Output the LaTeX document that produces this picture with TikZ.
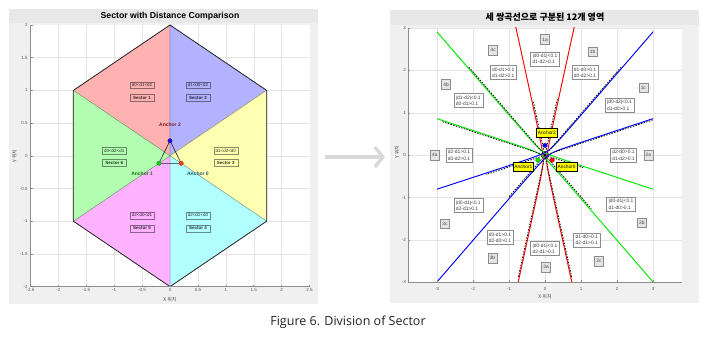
\documentclass[tikz,border=0pt]{standalone}
\usepackage{fontspec}
\setmainfont{Liberation Sans}
\newfontfamily\krfont{Noto Sans CJK KR}
\newfontfamily\capfont{Open Sans}
\usetikzlibrary{arrows.meta}

\definecolor{figbg}{HTML}{F0F0F0}
\definecolor{titlebg}{HTML}{E8E8E8}
\definecolor{gridc}{HTML}{E4E4E4}
\definecolor{axisc}{HTML}{8C8C8C}
\definecolor{secred}{RGB}{255,178,178}
\definecolor{secblue}{RGB}{178,178,255}
\definecolor{secyellow}{RGB}{255,255,178}
\definecolor{seccyan}{RGB}{178,255,255}
\definecolor{secmagenta}{RGB}{255,178,255}
\definecolor{secgreen}{RGB}{178,255,178}
\definecolor{hypred}{RGB}{255,0,0}
\definecolor{hypgreen}{RGB}{0,230,0}
\definecolor{hypblue}{RGB}{0,0,255}
\definecolor{dotred}{RGB}{232,64,28}
\definecolor{dotgreen}{RGB}{30,200,30}
\definecolor{dotblue}{RGB}{20,20,220}
\definecolor{lblA}{RGB}{30,92,110}
\definecolor{lblB}{RGB}{30,110,30}
\definecolor{lblC}{RGB}{122,26,40}
\definecolor{tagyellow}{RGB}{255,255,0}
\definecolor{arrowgray}{HTML}{D9D9D9}
\definecolor{capc}{HTML}{222222}

\tikzset{
  ticklbl/.style={font=\fontsize{4.5}{5}\selectfont, text=black!65, inner sep=0pt},
  axlbl/.style={font=\krfont\fontsize{5}{6}\selectfont, text=black!70, inner sep=0pt},
  paneltitle/.style={font=\bfseries\fontsize{8.7}{10}\selectfont, inner sep=0pt},
  gridline/.style={draw=gridc, line width=0.4pt},
  axisline/.style={draw=axisc, line width=0.5pt},
  secfill/.style={fill=#1, draw=#1!55!black, line width=0.3pt},
  secbox/.style={draw=#1!55!black, text=#1!20!black, line width=0.4pt,
     font=\fontsize{4.5}{5}\selectfont, inner sep=1.2pt, minimum width=24pt, minimum height=6.8pt},
  secname/.style={secbox=#1, font=\bfseries\fontsize{4.5}{5}\selectfont},
  anchorlbl/.style={font=\bfseries\fontsize{5}{6}\selectfont, text=#1, inner sep=0pt},
  anchordot/.style={circle, fill=#1, draw=#1!70!black, line width=0.3pt, minimum size=4.4pt, inner sep=0pt},
  hyper/.style={draw=#1, line width=0.95pt},
  asym/.style={draw=black, line width=0.75pt, dash pattern=on 1.5pt off 1.3pt},
  regbox/.style={draw=black!45, fill=black!10, font=\fontsize{4.8}{5}\selectfont, text=black!75,
     minimum width=9pt, minimum height=9.5pt, inner sep=0.5pt},
  condbox/.style={draw=black!45, fill=white, font=\fontsize{4.9}{6.4}\selectfont, text=black!75,
     align=left, inner sep=2pt},
  anchortag/.style={draw=black, fill=tagyellow, line width=0.4pt, font=\fontsize{4.8}{5}\selectfont,
     inner sep=1.3pt, minimum height=8.5pt},
}

\begin{document}
\begin{tikzpicture}[x=1pt, y=-1pt]
\useasboundingbox (0,0) rectangle (706,339);
\fill[white] (0,0) rectangle (706,339);

% ================= left panel: hexagon sectors =================
\fill[figbg] (9,9) rectangle (318,304);
\fill[titlebg] (9,9) rectangle (318,23);
\node[paneltitle] (ltitle) at (170,16) {Sector with Distance Comparison};
\fill[white] (30,25) rectangle (309.5,286.8);

\begin{scope}[shift={(170pt,-155.8pt)}, x={(55.8pt,0pt)}, y={(0pt,65.4pt)}]
  \foreach \g in {-2,-1.5,...,2} \draw[gridline] (\g,-2) -- (\g,2);
  \foreach \g in {-1.5,-1,...,1.5} \draw[gridline] (-2.5,\g) -- (2.5,\g);

  \coordinate (c) at (0,0);
  \coordinate (h0) at (0,2);
  \coordinate (h1) at (1.7321,1);
  \coordinate (h2) at (1.7321,-1);
  \coordinate (h3) at (0,-2);
  \coordinate (h4) at (-1.7321,-1);
  \coordinate (h5) at (-1.7321,1);
  \path[secfill=secred] (c) -- (h5) -- (h0) -- cycle;
  \path[secfill=secblue] (c) -- (h0) -- (h1) -- cycle;
  \path[secfill=secyellow] (c) -- (h1) -- (h2) -- cycle;
  \path[secfill=seccyan] (c) -- (h2) -- (h3) -- cycle;
  \path[secfill=secmagenta] (c) -- (h3) -- (h4) -- cycle;
  \path[secfill=secgreen] (c) -- (h4) -- (h5) -- cycle;
  \draw[black!85, line width=0.75pt, line join=round]
    (h0) -- (h1) -- (h2) -- (h3) -- (h4) -- (h5) -- cycle;

  % sector labels
  \node[secbox=secred] (s1c) at (-0.5,1.08) {d0<d1<d2};
  \node[secname=secred] (s1n) at (-0.5,0.89) {Sector 1};
  \node[secbox=secblue] (s2c) at (0.5,1.08) {d1<d0<d2};
  \node[secname=secblue] (s2n) at (0.5,0.89) {Sector 2};
  \node[secbox=secyellow] (s3c) at (1.0,0.08) {d1<d2<d0};
  \node[secname=secyellow] (s3n) at (1.0,-0.11) {Sector 3};
  \node[secbox=seccyan] (s4c) at (0.5,-0.91) {d2<d1<d0};
  \node[secname=seccyan] (s4n) at (0.5,-1.11) {Sector 4};
  \node[secbox=secmagenta] (s5c) at (-0.5,-0.91) {d2<d0<d1};
  \node[secname=secmagenta] (s5n) at (-0.5,-1.11) {Sector 5};
  \node[secbox=secgreen] (s6c) at (-1.0,0.08) {d0<d2<d1};
  \node[secname=secgreen] (s6n) at (-1.0,-0.11) {Sector 6};

  % anchors
  \coordinate (a2) at (0,0.23);
  \coordinate (a1) at (-0.2,-0.115);
  \coordinate (a0) at (0.2,-0.115);
  \draw[black!85, line width=0.6pt, line join=round] (a2) -- (a1) -- (a0) -- cycle;
  \node[anchordot=dotblue] (a2dot) at (a2) {};
  \node[anchordot=dotgreen] (a1dot) at (a1) {};
  \node[anchordot=dotred] (a0dot) at (a0) {};
  \node[anchorlbl=lblC] (a2lbl) at (0,0.47) {Anchor 2};
  \node[anchorlbl=lblB] (a1lbl) at (-0.5,-0.28) {Anchor 1};
  \node[anchorlbl=lblA] (a0lbl) at (0.5,-0.28) {Anchor 0};

  % axes
  \draw[axisline] (-2.5,2) -- (-2.5,-2) -- (2.5,-2);
  \foreach \g/\t [count=\i] in {-2.5/-2.5,-2/-2,-1.5/-1.5,-1/-1,-0.5/-0.5,0/0,0.5/0.5,1/1,1.5/1.5,2/2,2.5/2.5} {
    \draw[axisline] (\g,-2) -- ++(0pt,2pt);
    \node[ticklbl, anchor=north, yshift=-1.8pt] (lxt\i) at (\g,-2) {\t};
  }
  \foreach \g/\t [count=\i] in {-2/-2,-1.5/-1.5,-1/-1,-0.5/-0.5,0/0,0.5/0.5,1/1,1.5/1.5,2/2} {
    \draw[axisline] (-2.5,\g) -- ++(2pt,0pt);
    \node[ticklbl, anchor=east, xshift=-2.6pt] (lyt\i) at (-2.5,\g) {\t};
  }
\end{scope}
\node[axlbl] (lxlab) at (170,299.5) {X 위치};
\node[axlbl, rotate=90] (lylab) at (14.5,156) {Y 위치};

% ================= arrow between the panels =================
\coordinate (arrS) at (325,157);
\coordinate (arrE) at (385,157);
\draw[draw=arrowgray, line width=3.5pt, -{Straight Barb[length=8pt, width=20pt]}] (arrS) -- (arrE);

% ================= right panel: hyperbolas =================
\fill[figbg] (390,10) rectangle (699,303);
\fill[titlebg] (390,10) rectangle (699,25);
\node[paneltitle, font=\krfont\bfseries\fontsize{9}{10}\selectfont] (rtitle) at (545,17.5) {세 쌍곡선으로 구분된 12개 영역};
\fill[white] (408.2,28) rectangle (681.8,282.4);

\begin{scope}[shift={(545pt,-155.2pt)}, x={(36pt,0pt)}, y={(0pt,42.4pt)}]
  \foreach \g in {-3,...,3} \draw[gridline] (\g,-3) -- (\g,3);
  \foreach \g in {-2,...,3} \draw[gridline] (-3.8,\g) -- (3.8,\g);

  % d0-d1 = +-0.1 (foci at anchors 0 and 1)
  \begin{scope}
    \clip (-3.8,-3) rectangle (3.8,3);
    \draw[hyper=hypred] plot[domain=-3.7:3.7, samples=181, variable=\t]
      ({0.05*cosh(\t)}, {-0.115+0.19365*sinh(\t)});
    \draw[hyper=hypred] plot[domain=-3.7:3.7, samples=181, variable=\t]
      ({-0.05*cosh(\t)}, {-0.115+0.19365*sinh(\t)});
  \end{scope}
  \begin{scope}
    \clip (-3,-3) rectangle (3,3);
    % d1-d2 = +-0.1 (foci at anchors 1 and 2)
    \draw[hyper=hypgreen] plot[domain=-3.9:3.9, samples=181, variable=\t]
      ({-0.1+0.025*cosh(\t)-0.167701*sinh(\t)}, {0.0575+0.0433*cosh(\t)+0.096825*sinh(\t)});
    \draw[hyper=hypgreen] plot[domain=-3.9:3.9, samples=181, variable=\t]
      ({-0.1-0.025*cosh(\t)-0.167701*sinh(\t)}, {0.0575-0.0433*cosh(\t)+0.096825*sinh(\t)});
    % d0-d2 = +-0.1 (foci at anchors 0 and 2)
    \draw[hyper=hypblue] plot[domain=-3.9:3.9, samples=181, variable=\t]
      ({0.1-0.025*cosh(\t)-0.167701*sinh(\t)}, {0.0575+0.0433*cosh(\t)-0.096825*sinh(\t)});
    \draw[hyper=hypblue] plot[domain=-3.9:3.9, samples=181, variable=\t]
      ({0.1+0.025*cosh(\t)-0.167701*sinh(\t)}, {0.0575-0.0433*cosh(\t)-0.096825*sinh(\t)});
  \end{scope}

  % asymptote directions through the centroid
  \coordinate (cen) at (0,0);
  \draw[asym] (cen) -- (75.52:1.4);
  \draw[asym] (cen) -- (104.48:1.3);
  \draw[asym] (cen) -- (255.52:2.98);
  \draw[asym] (cen) -- (284.48:3.0);
  \draw[asym] (cen) -- (135.52:3.0);
  \draw[asym] (cen) -- (164.48:3.0);
  \draw[asym] (cen) -- (344.48:1.1);
  \draw[asym] (cen) -- (315.52:1.8);
  \draw[asym] (cen) -- (44.48:3.0);
  \draw[asym] (cen) -- (15.52:3.1);
  \draw[asym] (cen) -- (195.52:1.7);
  \draw[asym] (cen) -- (224.48:1.4);

  % anchors
  \node[anchordot=hypblue] (b2dot) at (0,0.23) {};
  \node[anchordot=hypgreen] (b1dot) at (-0.2,-0.115) {};
  \node[anchordot=hypred] (b0dot) at (0.2,-0.115) {};
  \node[anchortag] (b2tag) at (0.05,0.53) {Anchor2};
  \node[anchortag] (b1tag) at (-0.6,-0.27) {Anchor1};
  \node[anchortag] (b0tag) at (0.6,-0.27) {Anchor0};

  % region names and conditions
  \node[regbox] (r1a) at (0,2.73) {1a};
  \node[condbox] (c1a) at (0,2.27) {|d0-d1|<0.1\\d1-d2>0.1};
  \node[regbox] (r1b) at (1.32,2.44) {1b};
  \node[condbox] (c1b) at (1.11,1.95) {d1-d0>0.1\\d0-d2>0.1};
  \node[regbox] (r1c) at (2.73,1.59) {1c};
  \node[condbox] (c1c) at (2.07,1.18) {|d0-d2|<0.1\\d1-d0>0.1};
  \node[regbox] (r2a) at (2.87,0) {2a};
  \node[condbox] (c2a) at (2.18,0) {d2-d0>0.1\\d1-d2>0.1};
  \node[regbox] (r2b) at (2.69,-1.59) {2b};
  \node[condbox] (c2b) at (2.11,-1.16) {|d0-d1|<0.1\\d1-d0>0.1};
  \node[regbox] (r2c) at (1.5,-2.5) {2c};
  \node[condbox] (c2c) at (1.16,-2.0) {d1-d0>0.1\\d2-d1>0.1};
  \node[regbox] (r3a) at (0.03,-2.64) {3a};
  \node[condbox] (c3a) at (0,-2.2) {|d0-d1|<0.1\\d2-d1>0.1};
  \node[regbox] (r3b) at (-1.46,-2.43) {3b};
  \node[condbox] (c3b) at (-1.25,-1.94) {d0-d1>0.1\\d2-d0>0.1};
  \node[regbox] (r3c) at (-2.78,-1.61) {3c};
  \node[condbox] (c3c) at (-2.13,-1.19) {|d0-d1|<0.1\\d2-d1>0.1};
  \node[regbox] (r4a) at (-3.06,0) {4a};
  \node[condbox] (c4a) at (-2.39,0) {d2-d1>0.1\\d0-d2>0.1};
  \node[regbox] (r4b) at (-2.75,1.67) {4b};
  \node[condbox] (c4b) at (-2.13,1.29) {|d1-d2|<0.1\\d0-d1>0.1};
  \node[regbox] (r4c) at (-1.44,2.48) {4c};
  \node[condbox] (c4c) at (-1.16,1.95) {d0-d1>0.1\\d1-d2>0.1};

  % axes
  \draw[axisline] (-3.8,3) -- (-3.8,-3) -- (3.8,-3);
  \foreach \g [count=\i] in {-3,...,3} {
    \draw[axisline] (\g,-3) -- ++(0pt,2pt);
    \node[ticklbl, anchor=north, yshift=-5pt] (rxt\i) at (\g,-3) {\g};
    \draw[axisline] (-3.8,\g) -- ++(2pt,0pt);
    \node[ticklbl, anchor=east, xshift=-2.2pt] (ryt\i) at (-3.8,\g) {\g};
  }
\end{scope}
\node[axlbl] (rxlab) at (545,297) {X 위치};
\node[axlbl, rotate=90] (rylab) at (397,152) {Y 위치};

% ================= caption =================
\node[font=\capfont\fontsize{12.5}{14}\selectfont, text=capc, inner sep=0pt] (caption) at (348,322) {Figure 6. Division of Sector};
\end{tikzpicture}
\end{document}
